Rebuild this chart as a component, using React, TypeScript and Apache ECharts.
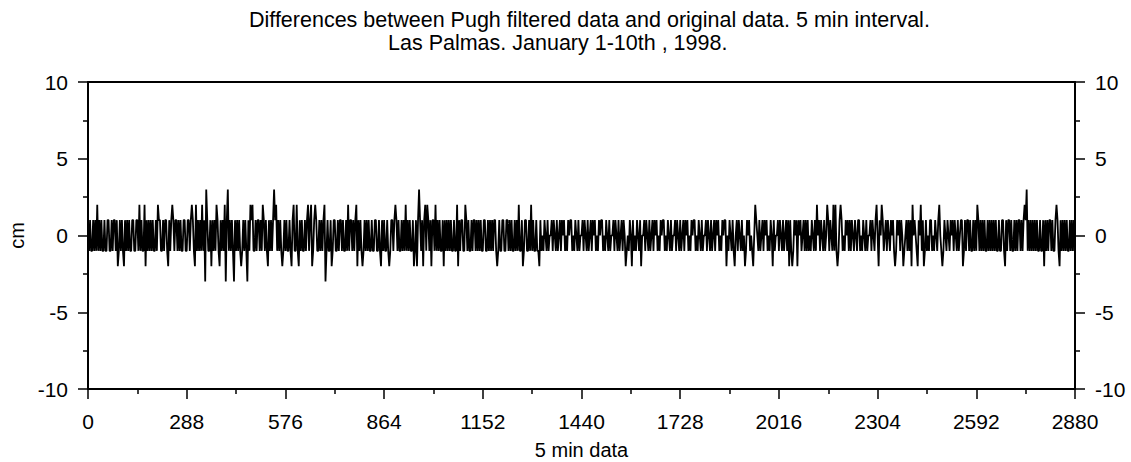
import React, { useEffect, useRef } from "react";
import * as echarts from "echarts";

// Title lines and axis names
const titleLine1 = "Differences between Pugh filtered data and original data. 5 min interval.";
const titleLine2 = "Las Palmas. January 1-10th , 1998.";
const xName = "5 min data";
const yName = "cm";

// Axis ticks
const xTicks = [0, 288, 576, 864, 1152, 1440, 1728, 2016, 2304, 2592, 2880];
const yTicks = [-10, -5, 0, 5, 10];

// Differences (cm), one sample every 15 min.
// a=-3 b=-2 c=-1 d=0 e=1 f=2 g=3
const diffCodes = [
  "ececcececf", "cececcecce", "ecceceeceb", "cececbecec", "ecceecceec",
  "fceccfbece", "cececcecfe", "ecceceecbe", "cefeceecec", "ecceecceec",
  "efecbfcece", "cfceagecce", "bececfecbe", "cecfaegcec", "ecaecececb",
  "cececaecfe", "fcceceecec", "fececbecec", "egefcececb", "cececcecbe",
  "fccfcbecec", "cecefcefbc", "efeccecece", "faceccebce", "ecceceecec",
  "cecfceecec", "efbececbce", "cececcecce", "eccecbecec", "cecbceecef",
  "ececcececf", "cececcebce", "begecebefc", "fecebeecfc", "ececcebece",
  "cececceccf", "beceeccfec", "ecceceecec", "ececceecce", "cececeecbc",
  "ecceecceec", "ececcececf", "ccebceecce", "cfcecceccb", "ecdcedcecd",
  "decedcecde", "cedecdcede", "ecdcedcecd", "decedcecde", "cedecdcede",
  "ecdcedcecd", "decedcecde", "cedbcdcedb", "ecdcedcebd", "decedcecde",
  "cedecdcede", "ecdcedcecd", "decedcecde", "cedecdcede", "ecdcedcecd",
  "decedcecde", "cedecdcede", "ebdcedcecb", "decedcecdb", "cedecdcbdf",
  "edcecdeced", "ecdcedbecd", "decedcecde", "cebecbcede", "bedecdecec",
  "ecdcedcecf", "decedcecdf", "ecedcfcfcb", "cefecdcede", "cecedcedce",
  "ecdcedcecd", "decedcefdb", "edfecdeced", "cedecbcede", "cedbcdecec",
  "ebfdedcbed", "fcebcecdce", "ecdcedcefd", "cbcedcedce", "decedcecde",
  "ebceceecec", "cececfecec", "ececcecece", "cececcecce", "ecbeceecec",
  "cececeecec", "efegcecece", "cececcecce", "bececeecec", "cefecbecec",
  "ececcecece", "d",
].join("");
const codeValues: Record<string, number> = { a: -3, b: -2, c: -1, d: 0, e: 1, f: 2, g: 3 };

const font = "Liberation Sans, Arial, Helvetica, sans-serif";

const DiffChart: React.FC = () => {
  const chartRef = useRef<HTMLDivElement>(null);

  useEffect(() => {
    if (!chartRef.current) return;
    const chart = echarts.init(chartRef.current, undefined, { renderer: "svg" });

    const xMax = xTicks[xTicks.length - 1];
    const codes = diffCodes.split("").filter((ch) => ch in codeValues);
    const step = xMax / (codes.length - 1);
    const seriesData = codes.map((ch, i) => [i * step, codeValues[ch]]);

    const axisLine = { show: true, onZero: false, lineStyle: { color: "#000", width: 2 } };
    const tickStyle = { color: "#000", width: 1.5 };
    const labelStyle = {
      color: "#000",
      fontSize: 21,
      fontFamily: font,
      formatter: (v: number) => String(v),
    };
    const nameStyle = { color: "#000", fontSize: 20, fontFamily: font };

    const yAxisBase = {
      type: "value" as const,
      min: yTicks[0],
      max: yTicks[yTicks.length - 1],
      interval: yTicks[1] - yTicks[0],
      axisLine,
      axisTick: { show: true, inside: false, length: 10, lineStyle: tickStyle },
      minorTick: { show: true, splitNumber: 2, length: 5, lineStyle: tickStyle },
      splitLine: { show: false },
      axisLabel: { ...labelStyle, margin: 20 },
    };

    const option: echarts.EChartsOption = {
      animation: false,
      backgroundColor: "#fff",
      graphic: [
        {
          type: "text",
          x: 249,
          y: 20,
          style: {
            text: titleLine1,
            fill: "#000",
            font: `21.5px ${font}`,
            textAlign: "left",
            textVerticalAlign: "middle",
          },
        },
        {
          type: "text",
          x: 388,
          y: 43,
          style: {
            text: titleLine2,
            fill: "#000",
            font: `21.5px ${font}`,
            textAlign: "left",
            textVerticalAlign: "middle",
          },
        },
      ],
      grid: { left: 88, right: 56, top: 82, bottom: 73, outerBoundsMode: "none" } as any,
      xAxis: [
        {
          type: "value",
          position: "bottom",
          min: 0,
          max: xMax,
          interval: xTicks[1] - xTicks[0],
          axisLine,
          axisTick: { show: true, inside: false, length: 10, lineStyle: tickStyle },
          minorTick: { show: true, splitNumber: 2, length: 5, lineStyle: tickStyle },
          splitLine: { show: false },
          axisLabel: { ...labelStyle, margin: 22 },
          name: xName,
          nameLocation: "middle",
          nameGap: 51,
          nameTextStyle: nameStyle,
        },
        {
          type: "value",
          position: "top",
          min: 0,
          max: xMax,
          axisLine,
          axisTick: { show: false },
          axisLabel: { show: false },
          splitLine: { show: false },
        },
      ],
      yAxis: [
        {
          ...yAxisBase,
          position: "left",
          name: yName,
          nameLocation: "middle",
          nameGap: 46,
          nameTextStyle: nameStyle,
        },
        { ...yAxisBase, position: "right" },
      ],
      series: [
        {
          type: "line",
          xAxisIndex: 0,
          yAxisIndex: 0,
          data: seriesData,
          showSymbol: false,
          symbol: "none",
          lineStyle: { color: "#000", width: 1.8 },
        },
      ],
    };

    chart.setOption(option);
    return () => {
      chart.dispose();
    };
  }, []);

  return (
    <div
      ref={chartRef}
      style={{ position: "fixed", left: 0, top: 0, width: "1131px", height: "462px" }}
    />
  );
};

export default function App() {
  return <DiffChart />;
}
